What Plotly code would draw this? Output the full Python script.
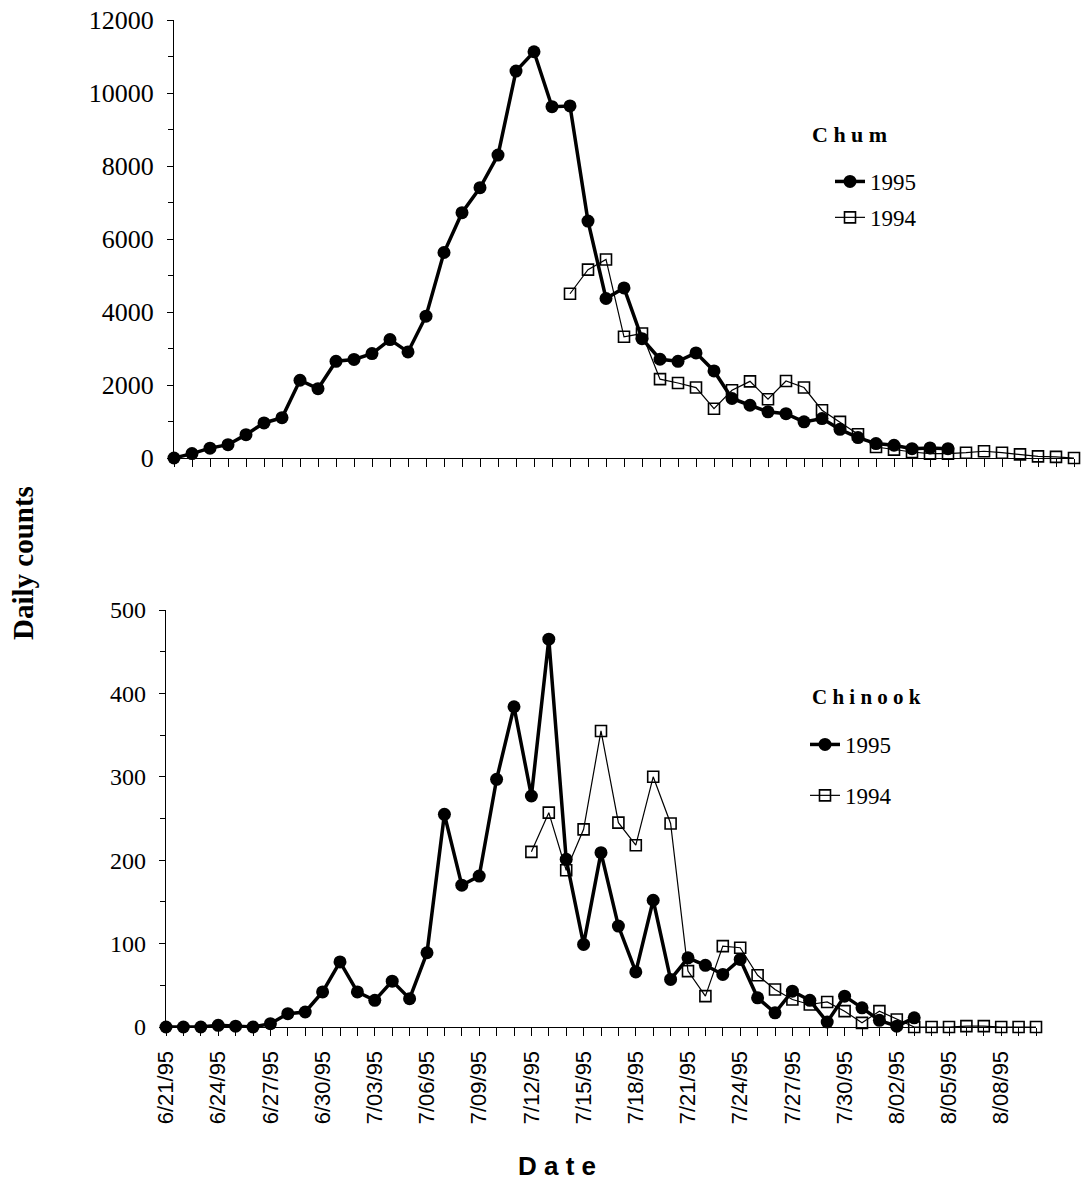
import pandas as pd
import plotly.graph_objects as go

# ---------------- data ----------------
dates_1995 = pd.date_range("1995-06-21", periods=44, freq="D")   # 6/21 .. 8/03
dates_chum_1994 = pd.date_range("1995-07-13", periods=29, freq="D")  # 7/13 .. 8/10
dates_chin_1994 = pd.date_range("1995-07-12", periods=30, freq="D")  # 7/12 .. 8/10

chum_1995 = [0, 120, 270, 365, 640, 960, 1105, 2130, 1900, 2650,
             2700, 2860, 3245, 2905, 3885, 5630, 6720, 7405, 8300, 10600,
             11130, 9625, 9645, 6490, 4370, 4660, 3270, 2705, 2650, 2880,
             2385, 1630, 1445, 1265, 1215, 990, 1080, 785, 560, 395,
             350, 255, 275, 255]
chum_1994 = [4500, 5160, 5440, 3320, 3410, 2160, 2055, 1930, 1350, 1855,
             2100, 1610, 2110, 1930, 1310, 990, 650, 300, 230, 165,
             120, 120, 145, 185, 145, 100, 45, 30, 0]

chinook_1995 = [0, 0, 0, 2, 1, 0, 4, 16, 18, 42,
                78, 42, 32, 55, 34, 89, 255, 170, 181, 297,
                384, 277, 465, 201, 99, 209, 121, 66, 152, 57,
                83, 74, 63, 81, 35, 17, 43, 32, 6, 37,
                23, 8, 1, 11]
chinook_1994 = [210, 257, 188, 237, 355, 245, 218, 300, 244, 67,
                37, 97, 95, 62, 45, 33, 27, 30, 19, 5,
                19, 9, 0, 0, 0, 1, 1, 0, 0, 0]

x_range = ["1995-06-21", "1995-08-10"]
chum_ticks = [0, 2000, 4000, 6000, 8000, 10000, 12000]
chinook_ticks = [0, 100, 200, 300, 400, 500]

# ---------------- figure ----------------
W, H = 1083, 1185
def px_x(p): return p / W
def px_y(p): return 1 - p / H

style95 = dict(mode="lines+markers", line=dict(color="black", width=3.5),
               marker=dict(symbol="circle", size=13, color="black"), cliponaxis=False)
style94 = dict(mode="lines+markers", line=dict(color="black", width=1.2),
               marker=dict(symbol="square-open", size=11, color="black", line=dict(width=1.6)),
               cliponaxis=False)

fig = go.Figure()
fig.add_trace(go.Scatter(x=dates_1995, y=chum_1995, name="1995", xaxis="x", yaxis="y",
                         legend="legend", legendgroup="a", **style95))
fig.add_trace(go.Scatter(x=dates_chum_1994, y=chum_1994, name="1994", xaxis="x", yaxis="y",
                         legend="legend", legendgroup="b", **style94))
fig.add_trace(go.Scatter(x=dates_1995, y=chinook_1995, name="1995", xaxis="x2", yaxis="y2",
                         legend="legend2", legendgroup="c", **style95))
fig.add_trace(go.Scatter(x=dates_chin_1994, y=chinook_1994, name="1994", xaxis="x2", yaxis="y2",
                         legend="legend2", legendgroup="d", **style94))

serif = "Liberation Serif, Times New Roman, serif"
sans = "Liberation Sans, Arial, sans-serif"

xcommon = dict(type="date", range=x_range, showgrid=False, zeroline=False, automargin=False,
               showline=True, linecolor="black", linewidth=1.2,
               ticks="outside", ticklen=8, tickcolor="black", tickwidth=1,
               dtick=3 * 86400000, tick0="1995-06-21",
               minor=dict(dtick=86400000, ticks="outside", ticklen=8, tickcolor="black", tickwidth=1),
               tickformat="%-m/%d/%y")
ycommon = dict(showgrid=False, zeroline=False, showline=True, linecolor="black", linewidth=1.2,
               automargin=False, tickformat="d",
               ticks="outside", ticklen=6, tickcolor="black", tickwidth=1,
               ticklabelstandoff=8)

fig.update_layout(
    width=W, height=H, paper_bgcolor="white", plot_bgcolor="white",
    margin=dict(l=0, r=0, t=0, b=0),
    xaxis=dict(domain=[px_x(174), px_x(1074)], anchor="y", showticklabels=False, **xcommon),
    yaxis=dict(domain=[px_y(458), px_y(20)], anchor="x", range=[0, 12000],
               tickvals=chum_ticks,
               tickfont=dict(family=serif, size=26, color="black"),
               minor=dict(dtick=1000, ticks="outside", ticklen=5, tickcolor="black"),
               **ycommon),
    xaxis2=dict(domain=[px_x(166), px_x(1036)], anchor="y2", showticklabels=True,
                tickangle=-90, ticklabelstandoff=6,
                tickfont=dict(family=sans, size=22, color="black"), **xcommon),
    yaxis2=dict(domain=[px_y(1027), px_y(610)], anchor="x2", range=[0, 500],
                tickvals=chinook_ticks,
                tickfont=dict(family=serif, size=24, color="black"),
                minor=dict(dtick=50, ticks="outside", ticklen=5, tickcolor="black"),
                **ycommon),
    legend=dict(x=px_x(830), y=px_y(160), xanchor="left", yanchor="top",
                bgcolor="rgba(0,0,0,0)", tracegroupgap=3,
                font=dict(family=serif, size=23, color="black")),
    legend2=dict(x=px_x(805), y=px_y(723), xanchor="left", yanchor="top",
                 bgcolor="rgba(0,0,0,0)", tracegroupgap=18,
                 font=dict(family=serif, size=23, color="black")),
    annotations=[
        dict(text="<b>C h u m</b>", x=px_x(849), y=px_y(135), xref="paper", yref="paper",
             xanchor="center", yanchor="middle", showarrow=False,
             font=dict(family=serif, size=22, color="black")),
        dict(text="<b>C h i n o o k</b>", x=px_x(866), y=px_y(697), xref="paper", yref="paper",
             xanchor="center", yanchor="middle", showarrow=False,
             font=dict(family=serif, size=21, color="black")),
        dict(text="<b>Daily counts</b>", x=px_x(23), y=px_y(563), xref="paper", yref="paper",
             xanchor="center", yanchor="middle",
             textangle=-90, showarrow=False, font=dict(family=serif, size=29, color="black")),
        dict(text="<b>D a t e</b>", x=px_x(557), y=px_y(1166), xref="paper", yref="paper",
             xanchor="center", yanchor="middle",
             showarrow=False, font=dict(family="Liberation Sans Narrow, " + sans, size=26, color="black")),
    ],
)

fig.write_html("out.html")
